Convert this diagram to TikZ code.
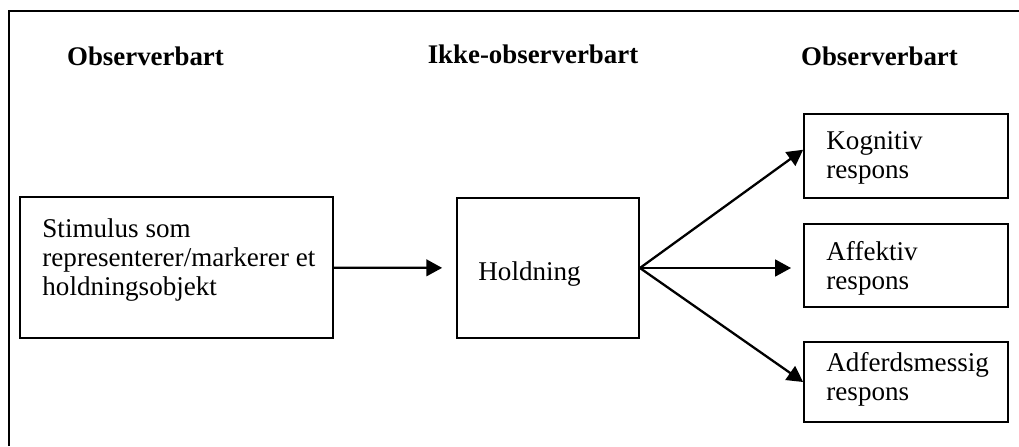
\documentclass[tikz,border=0pt]{standalone}
\usepackage{fontspec}
\setmainfont{Liberation Serif}
\usetikzlibrary{arrows.meta}

\begin{document}
\begin{tikzpicture}[x=0.48pt, y=-0.48pt,
    every node/.style={inner sep=0pt, font=\fontsize{13}{14}\selectfont},
    box/.style={draw, line width=0.85pt, rectangle},
    txt/.style={align=left},
    head/.style={font=\fontsize{12.9}{14}\selectfont\bfseries},
    arr/.style={line width=1.1pt, -{Triangle[length=7.6pt, width=8pt]}}]
     \useasboundingbox (0,0) rectangle (1019,446);
     % frame
     \draw[line width=1.4pt] (9,446) -- (9,11) -- (1019,11);

     \node[head, anchor=base] (h1) at (145.5,65) {Observerbart};
     \node[head, anchor=base] (h2) at (533,63) {Ikke-observerbart};
     \node[head, anchor=base] (h3) at (879.5,65) {Observerbart};

     \node[box, minimum width=150.2pt, minimum height=67.7pt] (stim) at (176.5,267.5) {};
     \node[box, minimum width=87.4pt, minimum height=67.2pt] (hold) at (548,268) {};
     \node[box, minimum width=97.9pt, minimum height=40.3pt] (kog) at (906,156) {};
     \node[box, minimum width=97.9pt, minimum height=39.8pt] (aff) at (906,265.5) {};
     \node[box, minimum width=97.9pt, minimum height=38.4pt] (adf) at (906,382) {};

     \node[txt, anchor=north west] (stimtxt) at (42,218) {Stimulus som\\representerer/markerer et\\holdningsobjekt};
     \node[anchor=base west] (holdtxt) at (478,280) {Holdning};
     \node[txt, anchor=north west] (kogtxt) at (826,131) {Kognitiv\\respons};
     \node[txt, anchor=north west] (afftxt) at (826,241) {Affektiv\\respons};
     \node[txt, anchor=north west] (adftxt) at (826,352) {Adferdsmessig\\respons};

     \draw[arr, shorten >=6.7pt] (stim) -- (hold);
     \draw[arr] (hold.east) -- ([yshift=3pt]kog.west);
     \draw[arr, shorten >=5.8pt] (hold.east) -- (aff.west |- hold.east);
     \draw[arr] (hold.east) -- (adf.west);
    \end{tikzpicture}
\end{document}
